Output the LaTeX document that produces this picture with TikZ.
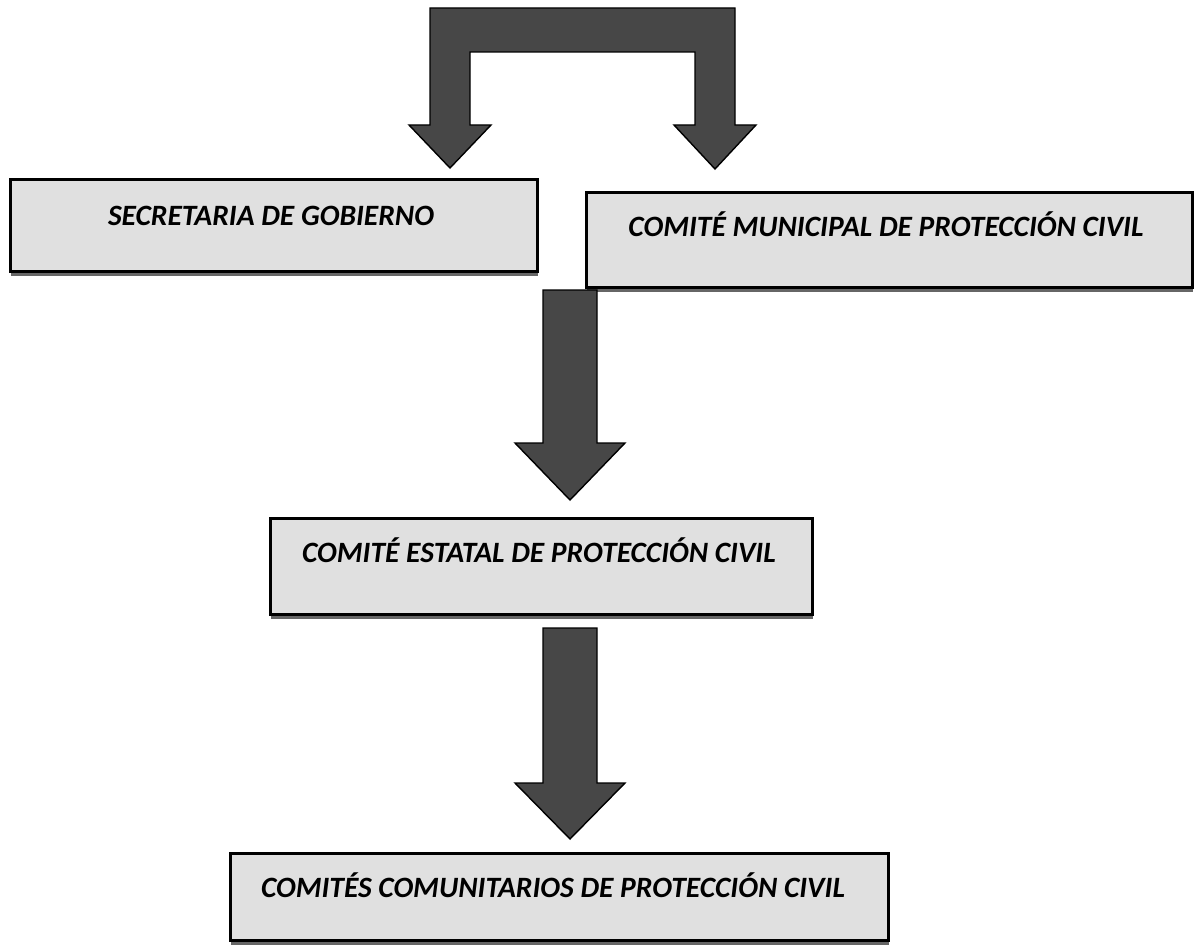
\documentclass[tikz,border=0pt]{standalone}
\usepackage{fontspec}
\setmainfont{Carlito}
\usetikzlibrary{shadows}
\tikzset{
  boxnode/.style={draw=black, line width=3pt, fill=gray!24, inner sep=0pt,
    drop shadow={shadow xshift=1pt, shadow yshift=-4.5pt, fill=black!60, opacity=1}},
  lbl/.style={font=\fontsize{29.5}{32}\selectfont\bfseries\itshape, inner sep=0pt, text=black},
  fatarrow/.style={fill=black!72, draw=black, line width=1.4pt, line join=miter}
}
\begin{document}
\begin{tikzpicture}[x=1pt, y=-1pt]
\path[use as bounding box] (0,0) rectangle (1195,947);

% boxes
\node[boxnode, minimum width=527pt, minimum height=91pt] (sec) at (273.5,225.5) {};
\node[lbl] (secT) at (271,216) {SECRETARIA DE GOBIERNO};

\node[boxnode, minimum width=606pt, minimum height=94pt] (mun) at (889,240) {};
\node[lbl] (munT) at (886,224) {COMITÉ MUNICIPAL DE PROTECCIÓN CIVIL};

\node[boxnode, minimum width=542pt, minimum height=96pt] (est) at (541,566) {};
\node[lbl] (estT) at (539,550) {COMITÉ ESTATAL DE PROTECCIÓN CIVIL};

\node[boxnode, minimum width=658pt, minimum height=87pt] (com) at (559,897) {};
\node[lbl] (comT) at (553,885) {COMITÉS COMUNITARIOS DE PROTECCIÓN CIVIL};

% bracket arrow from top to the two upper boxes
\coordinate (tipL) at (450,168);
\coordinate (tipR) at (715,169);
\path[fatarrow] (430,8) -- (735,8) -- (735,125) -- (756,125) -- (tipR)
  -- (674,125) -- (695,125) -- (695,52) -- (470,52) -- (470,125)
  -- (491,125) -- (tipL) -- (409,125) -- (430,125) -- cycle;

% arrow to estatal
\coordinate (a1h) at (570,500);
\path[fatarrow] (543,290) -- (597,290) -- (597,443) -- (625,443) -- (a1h)
  -- (515,443) -- (543,443) -- cycle;

% arrow to comunitarios
\coordinate (a2h) at (570,839);
\path[fatarrow] (543,628) -- (597,628) -- (597,783) -- (625,783) -- (a2h)
  -- (515,783) -- (543,783) -- cycle;
\end{tikzpicture}
\end{document}
